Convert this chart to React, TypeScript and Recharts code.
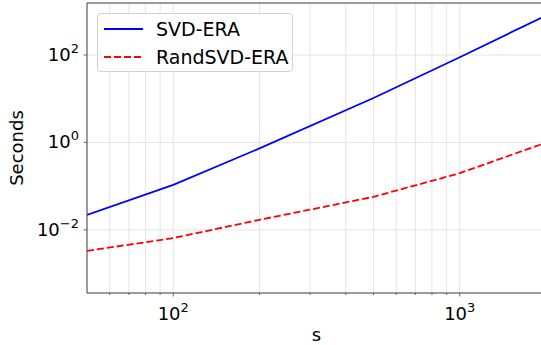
import React from "react";
import { LineChart, Line, XAxis, YAxis, CartesianGrid, Legend, ReferenceLine } from "recharts";

// problem size s and timing in seconds
const sizes = [50, 100, 200, 500, 1000, 2000];
const svdEra = [0.022, 0.107, 0.73, 10.4, 89, 800];
const randSvdEra = [0.0033, 0.0065, 0.017, 0.057, 0.198, 0.99];

const xTicks = [60, 70, 80, 90, 100, 200, 300, 400, 500, 600, 700, 800, 900, 1000, 2000];
const xLabeled = [100, 1000];
const yTicks = [0.01, 1, 100];

const xDomain = [50, 2000];
const yDomain = [0.00036, 1545];

const FONT = "'DejaVu Sans', sans-serif";
const SPINE = "#444";

const data = sizes.map((s, i) => ({ s, svd: svdEra[i], rand: randSvdEra[i] }));

const series = [
  { key: "svd", name: "SVD-ERA", color: "#0000ff", dash: undefined as string | undefined },
  { key: "rand", name: "RandSVD-ERA", color: "#ff0000", dash: "7 3" },
];

const expOf = (v: number) => {
  const e = Math.round(Math.log10(v));
  return e < 0 ? "\u2212" + Math.abs(e) : String(e);
};

const XTick = (props: any) => {
  const { x, y, payload } = props;
  const major = xLabeled.includes(payload.value);
  return (
    <g>
      <line x1={x} x2={x} y1={y} y2={y + (major ? 3.5 : 2)} stroke={SPINE} strokeWidth={0.8} />
      {major && (
        <text x={x} y={y + 27} textAnchor="middle" fontFamily={FONT} fontSize={18} fill="#000">
          10
          <tspan dy={-8} fontSize={13}>{expOf(payload.value)}</tspan>
        </text>
      )}
    </g>
  );
};

const YTick = (props: any) => {
  const { x, y, payload } = props;
  return (
    <g>
      <line x1={x - 3.5} x2={x} y1={y} y2={y} stroke={SPINE} strokeWidth={0.8} />
      <text x={x - 8} y={y + 6} textAnchor="end" fontFamily={FONT} fontSize={18} fill="#000">
        10
        <tspan dy={-8} fontSize={13}>{expOf(payload.value)}</tspan>
      </text>
    </g>
  );
};

const LegendBox = () => (
  <div
    style={{
      border: "1px solid #d0d0d0",
      borderRadius: 4,
      background: "rgba(255,255,255,0.85)",
      width: 196,
      height: 59,
      boxSizing: "border-box",
      paddingTop: 1,
      fontFamily: FONT,
      fontSize: 19,
    }}
  >
    {series.map((sr) => (
      <div key={sr.key} style={{ display: "flex", alignItems: "center", height: 28 }}>
        <svg width={53} height={10} style={{ marginLeft: 5 }}>
          <line x1={1} x2={40} y1={5} y2={5} stroke={sr.color} strokeWidth={1.8} strokeDasharray={sr.dash} />
        </svg>
        <span style={{ color: "#000", whiteSpace: "nowrap" }}>{sr.name}</span>
      </div>
    ))}
  </div>
);

export default function App() {
  return (
    <div style={{ width: 541, height: 345, overflow: "hidden", position: "relative", background: "#fff" }}>
      <style>{`body{margin:0}`}</style>
      <LineChart width={546} height={345} data={data} margin={{ top: 3, right: 0, bottom: 0, left: 0 }}>
        <CartesianGrid stroke="#e2e2e2" strokeWidth={0.9} />
        <XAxis
          dataKey="s"
          type="number"
          scale="log"
          domain={xDomain}
          allowDataOverflow
          ticks={xTicks}
          interval={0}
          tick={<XTick />}
          tickLine={false}
          tickSize={0}
          tickMargin={0}
          height={52}
          axisLine={{ stroke: SPINE, strokeWidth: 1 }}
          label={{ value: "s", position: "insideBottom", offset: 4, fontFamily: FONT, fontSize: 18, fill: "#000" }}
        />
        <YAxis
          type="number"
          scale="log"
          domain={yDomain}
          allowDataOverflow
          ticks={yTicks}
          interval={0}
          tick={<YTick />}
          tickLine={false}
          tickSize={0}
          tickMargin={0}
          width={87}
          axisLine={{ stroke: SPINE, strokeWidth: 1 }}
          label={{ value: "Seconds", angle: -90, position: "insideLeft", offset: 17, fontFamily: FONT, fontSize: 18, fill: "#000", style: { textAnchor: "middle" } }}
        />
        <ReferenceLine y={yDomain[1]} stroke={SPINE} strokeWidth={1} ifOverflow="extendDomain" />
        {series.map((sr) => (
          <Line
            key={sr.key}
            dataKey={sr.key}
            name={sr.name}
            stroke={sr.color}
            strokeWidth={1.8}
            strokeDasharray={sr.dash}
            dot={false}
            type="linear"
            isAnimationActive={false}
          />
        ))}
        <Legend
          layout="vertical"
          align="center"
          verticalAlign="middle"
          content={<LegendBox />}
          wrapperStyle={{ left: 97, top: 13, width: 196, height: 59 }}
        />
      </LineChart>
    </div>
  );
}
